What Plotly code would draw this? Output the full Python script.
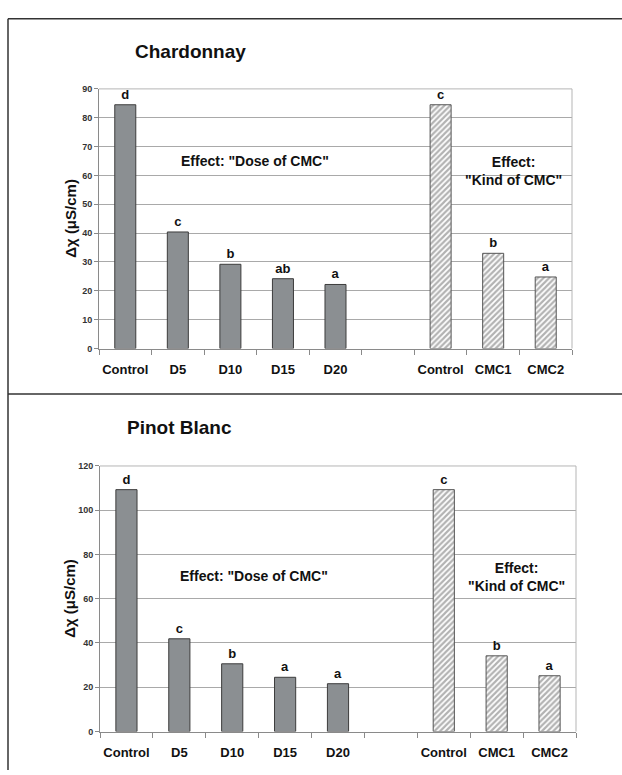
import plotly.graph_objects as go

# ---------------- data ----------------
dose_labels = ["Control", "D5", "D10", "D15", "D20"]
kind_labels = ["Control", "CMC1", "CMC2"]

chard_dose = [84.5, 40.4, 29.2, 24.2, 22.2]
chard_dose_letters = ["d", "c", "b", "ab", "a"]
chard_kind = [84.5, 33.0, 24.8]
chard_kind_letters = ["c", "b", "a"]

pinot_dose = [109.3, 41.9, 30.6, 24.5, 21.6]
pinot_dose_letters = ["d", "c", "b", "a", "a"]
pinot_kind = [109.3, 34.2, 25.2]
pinot_kind_letters = ["c", "b", "a"]

panel_titles = ["Chardonnay", "Pinot Blanc"]
y_title = "Δχ (μS/cm)"
y_ranges = [(0, 90), (0, 120)]
y_dticks = [10, 20]

# x positions: dose group, one empty slot, then kind group
dose_x = list(range(len(dose_labels)))
kind_x = [len(dose_labels) + 1 + i for i in range(len(kind_labels))]
all_x = dose_x + kind_x
all_labels = dose_labels + kind_labels
n_slots = len(dose_labels) + 1 + len(kind_labels)

FONT = "Liberation Sans, Arial, sans-serif"
BAR_GRAY = "#8b8f92"
EDGE = "#3c3c3c"


def bfont(size, color="#111"):
    return dict(family=FONT, size=size, color=color, weight="bold")


fig = go.Figure()

panels = [
    (chard_dose, chard_dose_letters, chard_kind, chard_kind_letters, "x", "y"),
    (pinot_dose, pinot_dose_letters, pinot_kind, pinot_kind_letters, "x2", "y2"),
]

for dv, dl, kv, kl, xa, ya in panels:
    fig.add_trace(go.Bar(
        x=dose_x, y=dv, text=dl, textposition="outside", cliponaxis=False,
        textfont=bfont(13),
        marker=dict(color=BAR_GRAY, line=dict(color=EDGE, width=1)),
        xaxis=xa, yaxis=ya, showlegend=False, hoverinfo="x+y",
    ))
    fig.add_trace(go.Bar(
        x=kind_x, y=kv, text=kl, textposition="outside", cliponaxis=False,
        textfont=bfont(13),
        marker=dict(color="white", line=dict(color="#555", width=1),
                    pattern=dict(shape="/", fgcolor="#666666", bgcolor="white",
                                 size=4, solidity=0.55)),
        xaxis=xa, yaxis=ya, showlegend=False, hoverinfo="x+y",
    ))

x_domains = [[99 / 622, 572 / 622], [100 / 622, 576 / 622]]
y_domains = [[1 - 348 / 775, 1 - 85 / 775], [1 - 736 / 775, 1 - 467 / 775]]

for i in range(2):
    sfx = "" if i == 0 else "2"
    xax = dict(
        domain=x_domains[i], range=[-0.5, n_slots - 0.5],
        anchor="y" + sfx,
        tickmode="array", tickvals=all_x, ticktext=all_labels,
        ticks="", showgrid=False, zeroline=False,
        showline=True, linecolor="#8a8a8a", linewidth=1,
        tickfont=bfont(13),
        ticklabelstandoff=9,
        minor=dict(tick0=-0.5, dtick=1, ticks="outside", ticklen=5,
                   tickcolor="#8a8a8a", showgrid=False),
        fixedrange=True,
    )
    yax = dict(
        domain=y_domains[i], range=list(y_ranges[i]), dtick=y_dticks[i],
        anchor="x" + sfx,
        ticks="outside", ticklen=4, tickcolor="#8a8a8a",
        showgrid=True, gridcolor="#a9a9a9", gridwidth=1,
        zeroline=False, showline=True, linecolor="#8a8a8a", linewidth=1,
        tickfont=bfont(9, "#333"),
        fixedrange=True,
    )
    fig.update_layout(**{"xaxis" + sfx: xax, "yaxis" + sfx: yax})

shapes = []
# light frame on top/right of each plot area
for i in range(2):
    x0, x1 = x_domains[i]
    y0, y1 = y_domains[i]
    shapes.append(dict(type="line", xref="paper", yref="paper", x0=x0, x1=x1, y0=y1, y1=y1,
                       line=dict(color="#b5b5b5", width=1)))
    shapes.append(dict(type="line", xref="paper", yref="paper", x0=x1, x1=x1, y0=y0, y1=y1,
                       line=dict(color="#b5b5b5", width=1)))
# figure panel borders
shapes.append(dict(type="line", xref="paper", yref="paper", x0=8 / 622, x1=1, y0=1 - 14 / 775, y1=1 - 14 / 775,
                   line=dict(color="#333", width=1.5)))
shapes.append(dict(type="line", xref="paper", yref="paper", x0=8 / 622, x1=1, y0=1 - 394 / 775, y1=1 - 394 / 775,
                   line=dict(color="#333", width=1.5)))
shapes.append(dict(type="line", xref="paper", yref="paper", x0=8 / 622, x1=8 / 622, y0=0, y1=1 - 14 / 775,
                   line=dict(color="#333", width=1.5)))

annotations = [
    dict(text=panel_titles[0], xref="paper", yref="paper",
         x=133 / 622, y=1 - 47 / 775, xanchor="left", yanchor="middle", showarrow=False,
         font=bfont(19)),
    dict(text=panel_titles[1], xref="paper", yref="paper",
         x=125 / 622, y=1 - 428 / 775, xanchor="left", yanchor="middle", showarrow=False,
         font=bfont(19)),
    dict(text='Effect: "Dose of CMC"', xref="x", yref="y", x=2.47, y=65,
         showarrow=False, font=bfont(14)),
    dict(text='Effect:<br>"Kind of CMC"', xref="x", yref="y", x=7.38, y=61.5,
         showarrow=False, font=bfont(14)),
    dict(text='Effect: "Dose of CMC"', xref="x2", yref="y2", x=2.41, y=70.5,
         showarrow=False, font=bfont(14)),
    dict(text='Effect:<br>"Kind of CMC"', xref="x2", yref="y2", x=7.38, y=70,
         showarrow=False, font=bfont(14)),
    # y-axis titles
    dict(text=y_title, xref="paper", yref="paper", x=71 / 622,
         y=(y_domains[0][0] + y_domains[0][1]) / 2, textangle=-90,
         xanchor="center", yanchor="middle",
         showarrow=False, font=bfont(15)),
    dict(text=y_title, xref="paper", yref="paper", x=70 / 622,
         y=(y_domains[1][0] + y_domains[1][1]) / 2, textangle=-90,
         xanchor="center", yanchor="middle",
         showarrow=False, font=bfont(15)),
]

fig.update_layout(
    width=622, height=775,
    margin=dict(l=0, r=0, t=0, b=0),
    paper_bgcolor="white", plot_bgcolor="white",
    barmode="overlay", bargap=0.6,
    shapes=shapes, annotations=annotations,
    font=dict(family=FONT, color="#111"),
)

fig.write_html(
    "out.html",
    config={"displayModeBar": False},
    post_script="document.body.style.margin='0';document.body.style.overflow='hidden';",
)
